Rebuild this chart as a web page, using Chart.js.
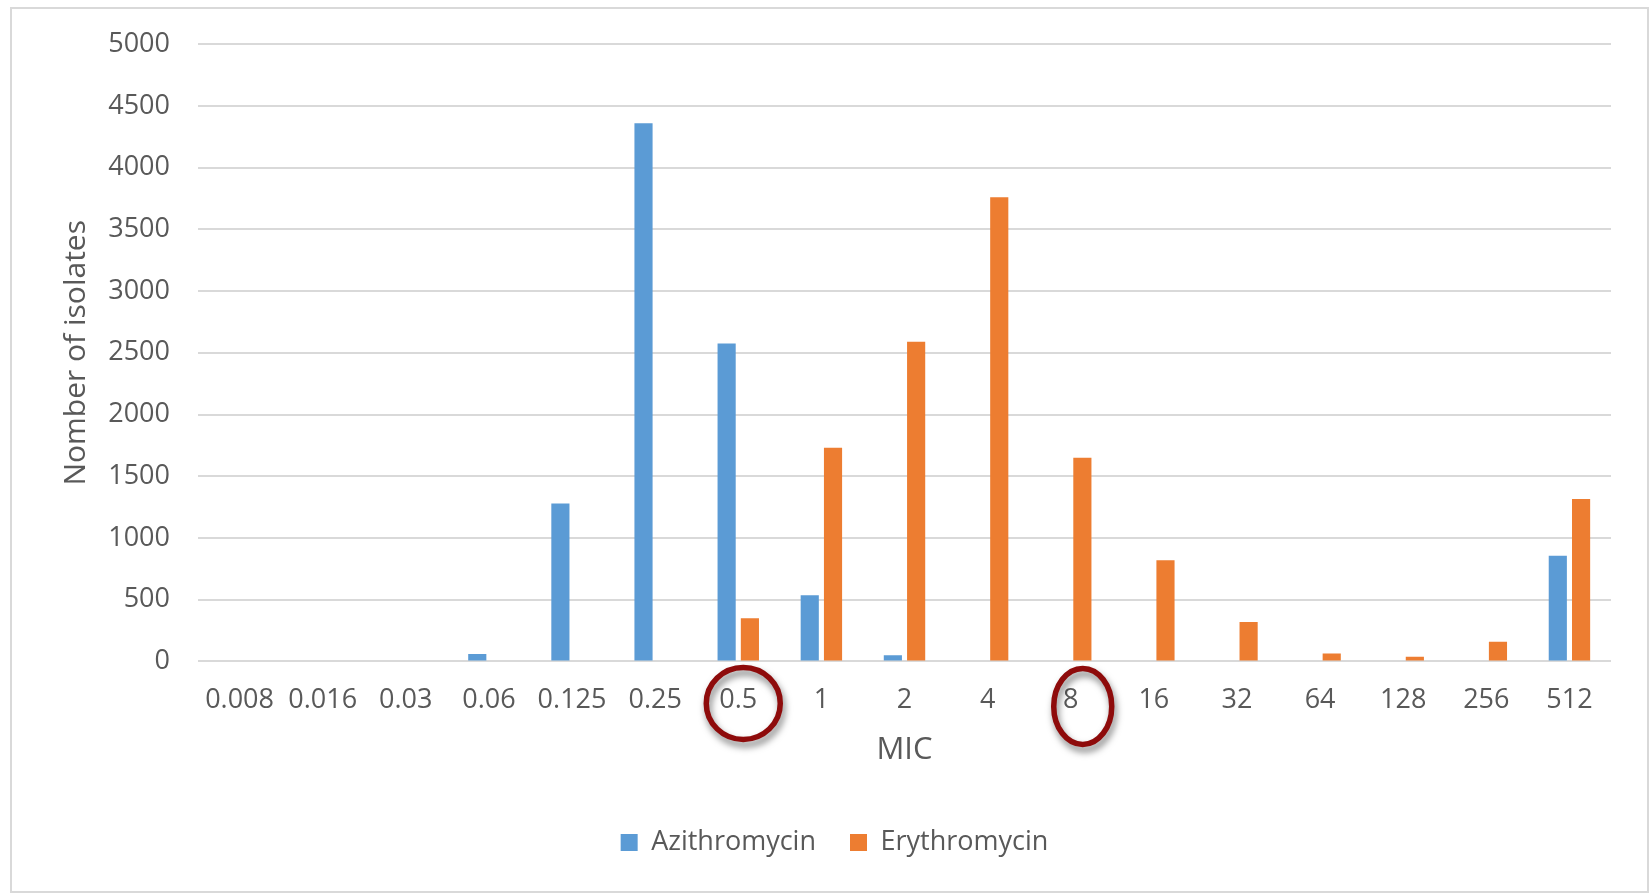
<!DOCTYPE html>
<html>
<head>
<meta charset="utf-8">
<script src="https://cdn.jsdelivr.net/npm/chart.js@4"></script>
<style>
  html, body { margin: 0; padding: 0; background: #fff; }
  #wrap { width: 1650px; height: 893px; }
</style>
</head>
<body>
<div id="wrap"><canvas id="micChart" width="1650" height="893"></canvas></div>
<script>
// MIC categories
const micLabels = ["0.008", "0.016", "0.03", "0.06", "0.125", "0.25", "0.5", "1", "2", "4", "8", "16", "32", "64", "128", "256", "512"];
// number of isolates per MIC
const azithromycin = [0, 0, 0, 60, 1280, 4360, 2575, 535, 50, 0, 0, 0, 0, 0, 0, 0, 855];
const erythromycin = [0, 0, 0, 0, 0, 0, 350, 1730, 2590, 3760, 1650, 820, 320, 65, 38, 160, 1315];
const yTicks = [0, 500, 1000, 1500, 2000, 2500, 3000, 3500, 4000, 4500, 5000];
// labels circled in the original figure
const circled = ["0.5", "8"];

const textColor = "#595959";
const gridColor = "#d9d9d9";
const fontFamily = "'Open Sans', 'Noto Sans', sans-serif";

// frame + red circles round some MIC labels
const decorations = {
  id: "decorations",
  beforeDraw(chart) {
    const c = chart.ctx;
    c.save();
    c.fillStyle = "#fff";
    c.fillRect(0, 0, chart.width, chart.height);
    c.strokeStyle = "#d9d9d9";
    c.lineWidth = 2;
    c.strokeRect(11, 8, chart.width - 13, chart.height - 9);
    c.restore();
  },
  afterDraw(chart) {
    const c = chart.ctx;
    const x = chart.scales.x;
    const shapes = [
      { dx: 5, dy: 42, rx: 37, ry: 36 },
      { dx: 12, dy: 45, rx: 29, ry: 38 }
    ];
    circled.forEach((lab, i) => {
      const idx = micLabels.indexOf(lab);
      const cx = x.getPixelForValue(idx) + shapes[i].dx;
      const cy = chart.chartArea.bottom + shapes[i].dy;
      c.save();
      c.shadowColor = "rgba(0,0,0,0.5)";
      c.shadowBlur = 7;
      c.shadowOffsetX = 2;
      c.shadowOffsetY = 5;
      c.strokeStyle = "#8e0b0b";
      c.lineWidth = 5.5;
      c.beginPath();
      c.ellipse(cx, cy, shapes[i].rx, shapes[i].ry, 0, 0, Math.PI * 2);
      c.stroke();
      c.restore();
    });
  }
};

const ctx = document.getElementById("micChart");
new Chart(ctx, {
  type: "bar",
  data: {
    labels: micLabels,
    datasets: [
      {
        label: "Azithromycin",
        data: azithromycin,
        backgroundColor: "#5b9bd5",
        categoryPercentage: 0.56,
        barPercentage: 0.78
      },
      {
        label: "Erythromycin",
        data: erythromycin,
        backgroundColor: "#ed7d31",
        categoryPercentage: 0.56,
        barPercentage: 0.78
      }
    ]
  },
  options: {
    responsive: false,
    animation: false,
    layout: { padding: { top: 34, right: 39, left: 58, bottom: 27 } },
    scales: {
      x: {
        grid: { display: false, drawTicks: false },
        border: { display: false },
        ticks: { color: textColor, font: { family: fontFamily, size: 27 }, padding: 23, maxRotation: 0, autoSkip: false },
        title: { display: true, text: "MIC", color: textColor, font: { family: fontFamily, size: 31 }, padding: { top: -8, bottom: 26 } }
      },
      y: {
        min: 0,
        max: 5000,
        afterBuildTicks(scale) { scale.ticks = yTicks.map(v => ({ value: v })); },
        afterFit(scale) { scale.width = 140; },
        grid: { color: gridColor, lineWidth: 2, drawTicks: false },
        border: { display: false },
        ticks: { color: textColor, font: { family: fontFamily, size: 27 }, padding: 28, callback: v => String(v) },
        title: { display: true, text: "Nomber of isolates", color: textColor, font: { family: fontFamily, size: 30 }, padding: { top: 0, bottom: 0 } }
      }
    },
    plugins: {
      legend: {
        position: "bottom",
        labels: {
          color: textColor,
          font: { family: fontFamily, size: 27 },
          boxWidth: 17,
          boxHeight: 17,
          padding: 34
        }
      },
      tooltip: { enabled: false }
    }
  },
  plugins: [decorations]
});
</script>
</body>
</html>
